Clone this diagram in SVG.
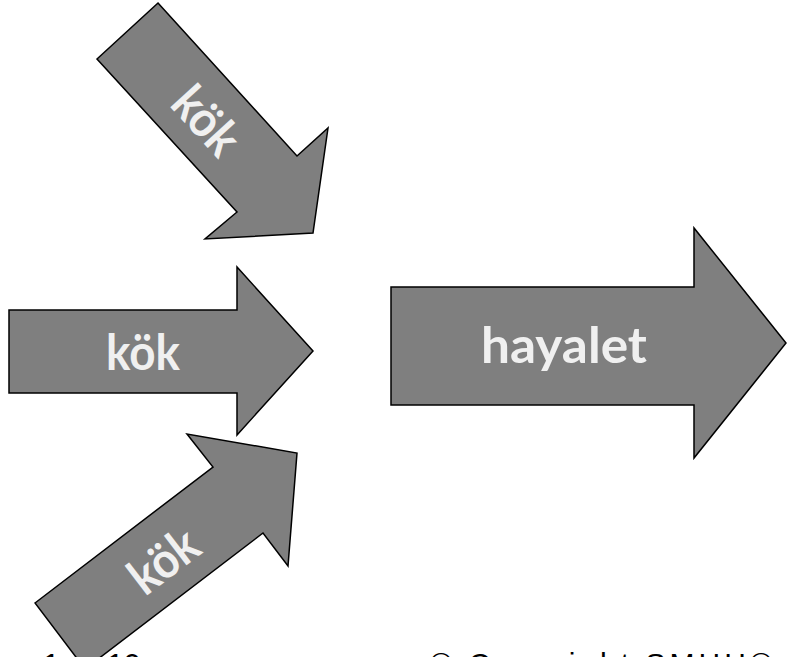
<svg xmlns="http://www.w3.org/2000/svg" width="787" height="657" viewBox="0 0 787 657">
<style>
.arrow{fill:#7f7f7f;stroke:#000;stroke-width:1.5;stroke-linejoin:miter}
.lbl{font-family:Lato,"Open Sans","DejaVu Sans",sans-serif;font-weight:700;font-size:50px;fill:#f0f0f0;text-anchor:middle}
.foot{font-family:"Liberation Sans",Arial,sans-serif;font-size:30px;fill:#000}
</style>
<rect width="787" height="657" fill="#fff"/>
<g id="footer">
<text class="foot" x="43" y="674">1</text>
<text class="foot" x="107" y="674">10</text>
<text class="foot" x="430" y="674" textLength="342" lengthAdjust="spacing">© Copyright SMHH©</text>
</g>
<g id="connectors"></g>
<g id="arrow-top">
<polygon class="arrow" points="158,3 297,156 328,128 313,233 205,239 237,212 97,59"/>
<g transform="translate(206,121) rotate(47.6)"><text class="lbl" x="0" y="17" textLength="74" lengthAdjust="spacingAndGlyphs">kök</text></g>
</g>
<g id="arrow-middle">
<polygon class="arrow" points="9,310 237,310 237,267 313,351 237,435 237,393 9,393"/>
<text class="lbl" x="143" y="370" textLength="74" lengthAdjust="spacingAndGlyphs">kök</text>
</g>
<g id="arrow-bottom">
<polygon class="arrow" points="35,603 213,467 187,434 297,453 288,566 263,533 85,669"/>
<g transform="translate(164,561) rotate(-37.4)"><text class="lbl" x="0" y="17" textLength="74" lengthAdjust="spacingAndGlyphs">kök</text></g>
</g>
<g id="arrow-hayalet">
<polygon class="arrow" points="391,287 694,287 694,228 786,343 694,458 694,405 391,405"/>
<text class="lbl" x="564" y="363" textLength="166" lengthAdjust="spacingAndGlyphs">hayalet</text>
</g>
</svg>
